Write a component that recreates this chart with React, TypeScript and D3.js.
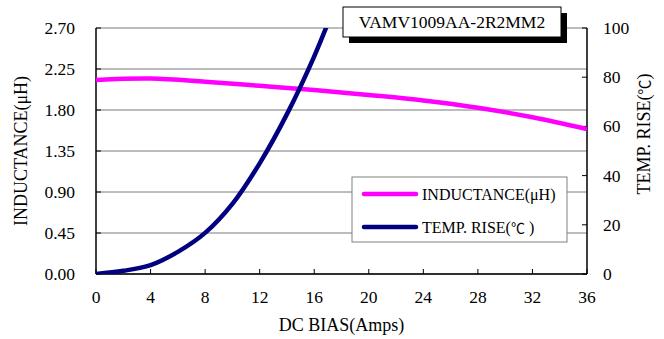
import React from "react";
import * as d3 from "d3";

// DC bias sweep (Amps)
const inductanceBias = [0, 4, 8, 12, 16, 20, 24, 28, 32, 36];
const inductanceValues = [2.13, 2.145, 2.11, 2.065, 2.02, 1.965, 1.905, 1.825, 1.72, 1.59];

const tempBias = [0, 2, 4, 6, 8, 10, 12, 14, 16, 17.5];
const tempValues = [0, 1.3, 3.6, 9, 16.7, 28.5, 45, 65, 88.5, 109];

const xTicks = [0, 4, 8, 12, 16, 20, 24, 28, 32, 36];
const leftTicks = [0, 0.45, 0.9, 1.35, 1.8, 2.25, 2.7];
const rightTicks = [0, 20, 40, 60, 80, 100];

const partNumber = "VAMV1009AA-2R2MM2";
const inductanceName = "INDUCTANCE(\u03bcH)";
const tempName = "TEMP. RISE(";
const degC = "\u2103";

const W = 664;
const H = 339;
const M = { left: 96, right: 587, top: 28, bottom: 274 };
const FONT = '"Liberation Serif", "DejaVu Serif", serif';
const CJK = '"Noto Sans CJK SC", "Liberation Serif", serif';

export default function App() {
  const x = d3.scaleLinear().domain([0, 36]).range([M.left, M.right]);
  const yL = d3.scaleLinear().domain([0, 2.7]).range([M.bottom, M.top]);
  const yR = d3.scaleLinear().domain([0, 100]).range([M.bottom, M.top]);

  const indLine = d3
    .line<number>()
    .x((_, i) => x(inductanceBias[i]))
    .y((d) => yL(d))
    .curve(d3.curveCatmullRom.alpha(0.5));
  const tempLine = d3
    .line<number>()
    .x((_, i) => x(tempBias[i]))
    .y((d) => yR(d))
    .curve(d3.curveCatmullRom.alpha(0.5));

  const magenta = "#ff00ff";
  const navy = "#000080";
  const txt = { fontFamily: FONT, fill: "#000" } as React.CSSProperties;

  return (
    <svg
      width={W}
      height={H}
      style={{ position: "fixed", left: 0, top: 0, background: "#fff", fontFamily: FONT }}
    >
      <defs>
        <clipPath id="plot-clip">
          <rect x={M.left} y={M.top} width={M.right - M.left} height={M.bottom - M.top} />
        </clipPath>
      </defs>

      {/* horizontal gridlines */}
      {leftTicks.map((t) => (
        <line
          key={"g" + t}
          x1={M.left}
          x2={M.right}
          y1={yL(t)}
          y2={yL(t)}
          stroke="#7a7a7a"
          strokeWidth={1}
        />
      ))}

      {/* axes */}
      <line x1={M.left} x2={M.left} y1={M.top} y2={M.bottom} stroke="#000" strokeWidth={1.5} />
      <line x1={M.right} x2={M.right} y1={M.top} y2={M.bottom} stroke="#000" strokeWidth={1.5} />
      <line x1={M.left} x2={M.right} y1={M.bottom} y2={M.bottom} stroke="#000" strokeWidth={1.5} />

      {/* x ticks */}
      {xTicks.map((t) => (
        <g key={"x" + t}>
          <line x1={x(t)} x2={x(t)} y1={M.bottom} y2={M.bottom - 5} stroke="#000" strokeWidth={1} />
          <text x={x(t)} y={303} fontSize={17.5} textAnchor="middle" style={txt}>
            {t}
          </text>
        </g>
      ))}

      {/* left ticks */}
      {leftTicks.map((t) => (
        <g key={"l" + t}>
          <line x1={M.left} x2={M.left + 5} y1={yL(t)} y2={yL(t)} stroke="#000" strokeWidth={1} />
          <text x={75} y={yL(t) + 6} fontSize={17.5} textAnchor="end" style={txt}>
            {t.toFixed(2)}
          </text>
        </g>
      ))}

      {/* right ticks */}
      {rightTicks.map((t) => (
        <g key={"r" + t}>
          <line x1={M.right} x2={M.right - 5} y1={yR(t)} y2={yR(t)} stroke="#000" strokeWidth={1} />
          <text x={603} y={yR(t) + 6} fontSize={17.5} textAnchor="start" style={txt}>
            {t}
          </text>
        </g>
      ))}

      {/* series */}
      <g clipPath="url(#plot-clip)">
        <path d={indLine(inductanceValues) || ""} fill="none" stroke={magenta} strokeWidth={4.5} />
        <path d={tempLine(tempValues) || ""} fill="none" stroke={navy} strokeWidth={4.5} />
      </g>

      {/* axis titles */}
      <text
        transform={`translate(27,${(M.top + M.bottom) / 2}) rotate(-90)`}
        fontSize={18}
        textAnchor="middle"
        style={txt}
      >
        {inductanceName}
      </text>
      <text transform={`translate(650,134) rotate(-90)`} fontSize={18} textAnchor="middle" style={txt}>
        {tempName}
        <tspan style={{ fontFamily: CJK }} fontSize={15}>
          {degC}
        </tspan>
        )
      </text>
      <text x={(M.left + M.right) / 2} y={331} fontSize={18} textAnchor="middle" style={txt}>
        DC BIAS(Amps)
      </text>

      {/* part number box with drop shadow */}
      <rect x={349} y={13} width={218} height={30} fill="#000" />
      <rect x={343} y={7} width={218} height={30} fill="#fff" stroke="#000" strokeWidth={1} />
      <text x={452} y={28} fontSize={17.5} textAnchor="middle" style={txt}>
        {partNumber}
      </text>

      {/* legend */}
      <rect x={352} y={177} width={215} height={65} fill="#fff" stroke="#808080" strokeWidth={1} />
      <line x1={364} x2={416} y1={194} y2={194} stroke={magenta} strokeWidth={4.5} strokeLinecap="round" />
      <line x1={364} x2={416} y1={227} y2={227} stroke={navy} strokeWidth={4.5} strokeLinecap="round" />
      <text x={422} y={200} fontSize={16} style={txt}>
        {inductanceName}
      </text>
      <text x={422} y={233} fontSize={16} style={txt}>
        {tempName}
        <tspan style={{ fontFamily: CJK }} fontSize={14}>
          {degC}
        </tspan>
        {" )"}
      </text>
    </svg>
  );
}
